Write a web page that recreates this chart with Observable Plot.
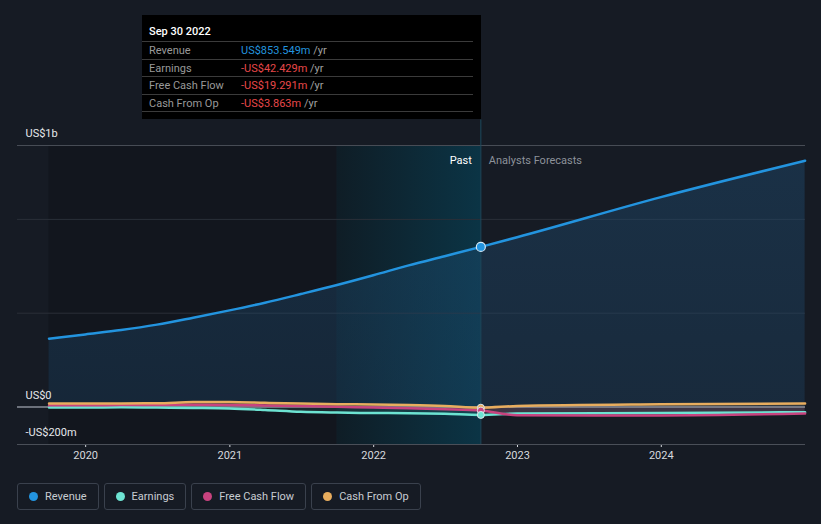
<!DOCTYPE html>
<html>
<head>
<meta charset="utf-8">
<script src="https://cdn.jsdelivr.net/npm/d3@7"></script>
<script src="https://cdn.jsdelivr.net/npm/@observablehq/plot@0.6"></script>
<style>
  html, body { margin: 0; padding: 0; background: #161b24; }
  #wrap { position: relative; width: 821px; height: 524px; overflow: hidden; font-family: Roboto, "Noto Sans", sans-serif; }
  #chart { position: absolute; left: 0; top: 0; }
  #tip { position: absolute; left: 142px; top: 15px; width: 339px; height: 104px; background: #000; box-sizing: border-box; font-size: 11px; }
  #tip .title { position: absolute; left: 7px; top: 10px; color: #fff; font-weight: 500; line-height: 14px; }
  #tip .row { position: absolute; left: 0; width: 331px; height: 17px; border-top: 1px solid #3b3b3b; line-height: 17px; color: #999; }
  #tip .row .lab { position: absolute; left: 7px; }
  #tip .row .val { position: absolute; left: 99px; }
  #tip .yr { color: #a0a0a0; }
  #legend { position: absolute; left: 17px; top: 483px; display: flex; gap: 5px; }
  #legend .item { height: 25px; border: 1px solid #3a414d; border-radius: 3px; display: flex; align-items: center; padding: 0 11px 0 11px; color: #c8ccd2; font-size: 11px; box-sizing: content-box; }
  #legend .dot { width: 9px; height: 9px; border-radius: 50%; margin-right: 7px; }
</style>
</head>
<body>
<div id="wrap">
  <div id="chart"></div>
  <div id="tip"></div>
  <div id="legend"></div>
</div>
<script>
// ---- data (US$ millions) ----
const quarters = ["2019-09-30","2019-12-31","2020-03-31","2020-06-30","2020-09-30","2020-12-31","2021-03-31","2021-06-30","2021-09-30","2021-12-31","2022-03-31","2022-06-30","2022-09-30"];
const revenuePast  = [364, 387, 410, 439, 476, 515, 556, 602, 650, 702, 755, 804, 853.549];
const earningsPast = [-3, -3, -2, -3, -5, -8, -16, -26, -30, -32, -33, -36, -42.429];
const fcfPast      = [9, 9, 10, 11, 12, 11, 8, 5, 1, -3, -7, -12, -19.291];
const cfoPast      = [18, 18, 19, 20, 26, 27, 22, 18, 15, 13, 10, 5, -3.863];

const forecastDates = ["2022-09-30","2022-12-31","2023-12-31","2024-12-31"];
const revenueFc  = [853.549, 905, 1119, 1313];
const earningsFc = [-42.429, -35, -32, -28];
const fcfFc      = [-19.291, -44, -45, -35];
const cfoFc      = [-3.863, 5, 14, 18];

const seriesNames  = ["Revenue", "Earnings", "Free Cash Flow", "Cash From Op"];
const seriesColors = ["#2394df", "#6de3d2", "#c8437f", "#e8ad5e"];

const yearTicks = ["2020-01-01","2021-01-01","2022-01-01","2023-01-01","2024-01-01"];
const yTickValues = [-200, 0, 1394];
const yTickLabels = ["-US$200m", "US$0", "US$1b"];

const tipDate = "Sep 30 2022";
const tipValues = ["US$853.549m", "-US$42.429m", "-US$19.291m", "-US$3.863m"];

const xDomain = ["2019-07-12", "2025-01-01"];
const pastStart = "2019-09-30";
const highlightStart = "2021-09-30";
const nowDate = "2022-09-30";
const topRuleValue = 1530;

// ---- build tables ----
const P = d => new Date(d + "T00:00:00Z");
const pastSets = [revenuePast, earningsPast, fcfPast, cfoPast];
const fcSets = [revenueFc, earningsFc, fcfFc, cfoFc];
const rows = [];
seriesNames.forEach((name, i) => {
  const pts = quarters.map((d, j) => ({series: name, date: P(d), value: pastSets[i][j]}))
    .concat(forecastDates.slice(1).map((d, j) => ({series: name, date: P(d), value: fcSets[i][j + 1]})));
  rows.push(...pts);
});
const bySeries = name => rows.filter(r => r.series === name);
const nowPoints = seriesNames.map((name, i) => ({series: name, date: P(nowDate), value: pastSets[i][pastSets[i].length - 1], color: seriesColors[i]}));

function defs() {
  const g = d3.create("svg:defs");
  const lg = g.append("linearGradient").attr("id", "hl").attr("x1", 0).attr("x2", 1).attr("y1", 0).attr("y2", 0);
  lg.append("stop").attr("offset", "0%").attr("stop-color", "#0f1d26");
  lg.append("stop").attr("offset", "100%").attr("stop-color", "#0b3445");
  const ag = g.append("linearGradient").attr("id", "ar").attr("x1", 0).attr("x2", 0).attr("y1", 0).attr("y2", 1);
  ag.append("stop").attr("offset", "0%").attr("stop-color", "#1f4e75").attr("stop-opacity", 0.42);
  ag.append("stop").attr("offset", "100%").attr("stop-color", "#1f4e75").attr("stop-opacity", 0.30);
  return g.node();
}

const curve = "monotone-x";
const chart = Plot.plot({
  width: 821,
  height: 470,
  marginLeft: 17,
  marginRight: 16,
  marginTop: 145,
  marginBottom: 26,
  style: {background: "transparent", color: "#d6d9de", fontFamily: "Roboto, 'Noto Sans', sans-serif", fontSize: "11px", overflow: "visible"},
  x: {type: "utc", domain: xDomain.map(P), ticks: yearTicks.map(P), tickFormat: d3.utcFormat("%Y"), tickSize: 3, tickPadding: 4, label: null},
  y: {domain: [-200, 1394], axis: null},
  marks: [
    defs,
    Plot.rect([0], {x1: () => P(pastStart), x2: () => P(highlightStart), fill: "#12161e"}),
    Plot.rect([0], {x1: () => P(highlightStart), x2: () => P(nowDate), fill: "url(#hl)"}),
    Plot.ruleY([500, 1000], {stroke: "#2a2f38", strokeWidth: 1}),
    Plot.ruleY([1394], {stroke: "#474c55", strokeWidth: 1}),
    Plot.ruleY([-200], {stroke: "#4a4f58", strokeWidth: 1}),
    Plot.areaY(bySeries("Revenue"), {x: "date", y: "value", fill: "url(#ar)", curve}),
    Plot.areaY(bySeries("Cash From Op"), {x: "date", y: "value", fill: "#e8ad5e", fillOpacity: 0.12, curve}),
    Plot.areaY(bySeries("Free Cash Flow"), {x: "date", y: "value", fill: "#c8437f", fillOpacity: 0.2, curve}),
    Plot.areaY(bySeries("Earnings"), {x: "date", y: "value", fill: "#6de3d2", fillOpacity: 0.1, curve}),
    Plot.ruleY([0], {stroke: "#8a8f98", strokeWidth: 1.5}),
    Plot.ruleX([P(nowDate)], {y1: -200, y2: topRuleValue, stroke: "#1c4a5e", strokeWidth: 1}),
    Plot.lineY(bySeries("Earnings"), {x: "date", y: "value", stroke: seriesColors[1], strokeWidth: 2.5, curve}),
    Plot.lineY(bySeries("Free Cash Flow"), {x: "date", y: "value", stroke: seriesColors[2], strokeWidth: 2.5, curve}),
    Plot.lineY(bySeries("Cash From Op"), {x: "date", y: "value", stroke: seriesColors[3], strokeWidth: 2.5, curve}),
    Plot.lineY(bySeries("Revenue"), {x: "date", y: "value", stroke: seriesColors[0], strokeWidth: 2.5, curve}),
    Plot.dot(nowPoints.slice(1).reverse(), {x: "date", y: "value", fill: "color", r: 3.5, stroke: "#dfe6ea", strokeWidth: 1}),
    Plot.dot(nowPoints.slice(0, 1), {x: "date", y: "value", fill: "color", r: 4.5, stroke: "#d4e9f7", strokeWidth: 1.2}),
    Plot.text(yTickValues.map((v, i) => ({v, label: yTickLabels[i]})), {y: "v", text: "label", frameAnchor: "left", textAnchor: "start", dx: 8, dy: -12, fill: "#e6e8eb", fontSize: 11}),
    Plot.text([P(nowDate)], {x: d => d, text: () => "Past", frameAnchor: "top", textAnchor: "end", dx: -9, dy: 11, fill: "#ffffff", fontSize: 11}),
    Plot.text([P(nowDate)], {x: d => d, text: () => "Analysts Forecasts", frameAnchor: "top", textAnchor: "start", dx: 8, dy: 11, fill: "#8d929a", fontSize: 11})
  ]
});
document.getElementById("chart").appendChild(chart);

// ---- tooltip ----
const tip = document.getElementById("tip");
const t = document.createElement("div");
t.className = "title"; t.textContent = tipDate; tip.appendChild(t);
seriesNames.forEach((name, i) => {
  const r = document.createElement("div");
  r.className = "row";
  r.style.top = (26 + i * 17.5) + "px";
  const neg = tipValues[i].startsWith("-");
  r.innerHTML = `<span class="lab">${name}</span><span class="val"><span style="color:${neg ? "#e8484a" : "#2394df"}">${tipValues[i]}</span> <span class="yr">/yr</span></span>`;
  tip.appendChild(r);
});
const last = document.createElement("div");
last.className = "row"; last.style.top = (26 + 4 * 17.5) + "px"; last.style.height = "0";
tip.appendChild(last);

// ---- legend ----
const legend = document.getElementById("legend");
seriesNames.forEach((name, i) => {
  const it = document.createElement("div");
  it.className = "item";
  it.innerHTML = `<span class="dot" style="background:${seriesColors[i]}"></span><span>${name}</span>`;
  legend.appendChild(it);
});
</script>
</body>
</html>
